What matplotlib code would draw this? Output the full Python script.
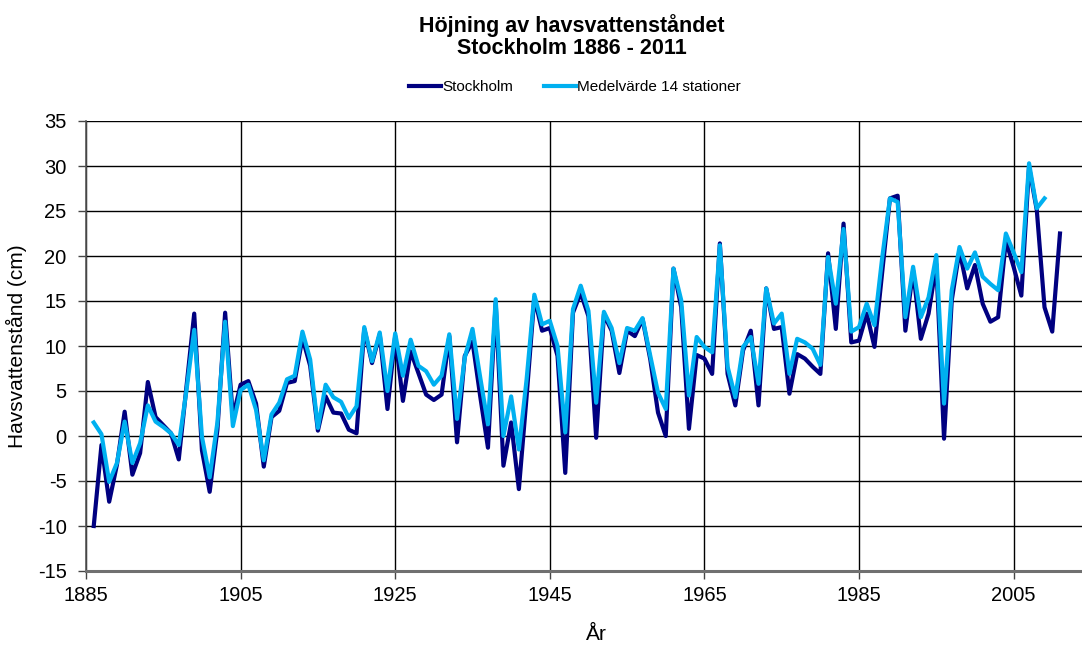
import numpy as np
import matplotlib
matplotlib.use('Agg')
import matplotlib.pyplot as plt

plt.rcParams['font.family'] = ['Liberation Sans', 'DejaVu Sans']
plt.rcParams['axes.unicode_minus'] = False

# Stockholm, 1886-2011
years_sth = list(range(1886, 2012))
stockholm = [
    -10.0, -1.0, -7.3, -3.2, 2.7, -4.3, -1.9, 6.0, 2.1, 1.2,
    0.3, -2.6, 5.5, 13.6, -1.6, -6.2, 0.7, 13.7, 2.1, 5.7,
    6.1, 3.6, -3.4, 2.1, 2.8, 5.9, 6.1, 10.9, 7.8, 0.6,
    4.4, 2.6, 2.5, 0.7, 0.3, 11.9, 8.1, 11.3, 3.0, 11.1,
    3.9, 9.4, 7.0, 4.6, 4.0, 4.6, 11.1, -0.7, 8.9, 10.5,
    4.4, -1.3, 14.8, -3.3, 1.5, -5.9, 4.4, 15.4, 11.7, 12.0,
    8.9, -4.1, 13.7, 15.9, 13.3, -0.2, 13.5, 11.7, 7.0, 11.7,
    11.1, 13.0, 8.5, 2.6, 0.0, 18.6, 14.3, 0.8, 9.0, 8.6,
    6.9, 21.4, 6.9, 3.4, 9.5, 11.7, 3.4, 16.4, 11.9, 12.1,
    4.7, 9.1, 8.6, 7.7, 6.9, 20.3, 11.9, 23.6, 10.4, 10.6,
    13.6, 9.9, 18.2, 26.4, 26.7, 11.7, 18.4, 10.8, 13.6, 19.1,
    -0.3, 15.1, 20.6, 16.4, 19.0, 14.7, 12.7, 13.2, 21.7, 18.8,
    15.6, 29.9, 25.1, 14.3, 11.6, 22.5,
]

# Medelvärde 14 stationer, 1886-2009
years_med = list(range(1886, 2010))
medel = [
    1.5, 0.2, -5.1, -3.0, 1.6, -3.0, -0.8, 3.4, 1.6, 1.0,
    0.3, -1.0, 5.1, 11.8, -0.1, -4.6, 1.5, 12.7, 1.1, 5.1,
    5.7, 2.9, -2.7, 2.4, 3.7, 6.3, 6.7, 11.6, 8.5, 0.9,
    5.7, 4.3, 3.8, 2.0, 3.3, 12.1, 8.3, 11.5, 5.0, 11.4,
    6.7, 10.7, 7.8, 7.2, 5.7, 6.7, 11.3, 1.9, 8.7, 11.9,
    6.5, 1.3, 15.2, 0.0, 4.4, -1.5, 6.3, 15.7, 12.4, 12.8,
    10.0, 0.4, 14.1, 16.7, 13.9, 3.7, 13.8, 12.0, 8.1, 12.0,
    11.7, 13.1, 8.9, 4.8, 3.0, 18.6, 15.1, 4.5, 11.0, 9.9,
    9.3, 21.2, 7.7, 4.3, 9.9, 11.0, 5.8, 16.4, 12.5, 13.6,
    6.9, 10.8, 10.4, 9.7, 7.9, 19.9, 14.7, 23.0, 11.6, 12.1,
    14.7, 12.3, 19.8, 26.4, 26.0, 13.2, 18.8, 13.2, 15.4, 20.1,
    3.6, 16.2, 21.0, 18.6, 20.4, 17.7, 16.9, 16.2, 22.5, 20.4,
    18.2, 30.3, 25.3, 26.4,
]

fig = plt.figure(figsize=(10.82, 6.46), dpi=100)
ax = fig.add_axes([86 / 1082, 75 / 646, 996 / 1082, 450 / 646])

ax.plot(years_sth, stockholm, color='#000080', lw=3.0, label='Stockholm',
        solid_joinstyle='round', zorder=3)
ax.plot(years_med, medel, color='#00B0F0', lw=3.0, label='Medelvärde 14 stationer',
        solid_joinstyle='round', zorder=4)

ax.set_xlim(1885, 1885 + 996 / 7.73)
ax.set_ylim(-15, 35)
ax.set_xticks(range(1885, 2006, 20))
ax.set_yticks(range(-15, 36, 5))
ax.grid(True, color='black', lw=1.0)
ax.set_axisbelow(True)

for s in ['top', 'right']:
    ax.spines[s].set_visible(False)
ax.spines['left'].set_color('#555555')
ax.spines['left'].set_linewidth(1.2)
ax.spines['bottom'].set_color('#707070')
ax.spines['bottom'].set_linewidth(2.2)

ax.tick_params(axis='both', labelsize=14.5, length=6, width=1, color='#444444')
ax.tick_params(axis='x', pad=5)
ax.tick_params(axis='y', pad=8)

ax.set_ylabel('Havsvattenstånd (cm)', fontsize=15, labelpad=8)
fig.text(596 / 1082, 2 / 646, 'År', ha='center', va='bottom', fontsize=15)

fig.suptitle('Höjning av havsvattenståndet\nStockholm 1886 - 2011',
             x=572 / 1082, y=1 - 14 / 646, fontsize=15.5, fontweight='bold',
             linespacing=1.05)

fig.legend(loc='center', bbox_to_anchor=(575 / 1082, 1 - 87 / 646), ncol=2,
           frameon=False, fontsize=11, handlelength=2.1, columnspacing=2.0,
           handletextpad=0.1)

fig.savefig('out.png', dpi=100)
